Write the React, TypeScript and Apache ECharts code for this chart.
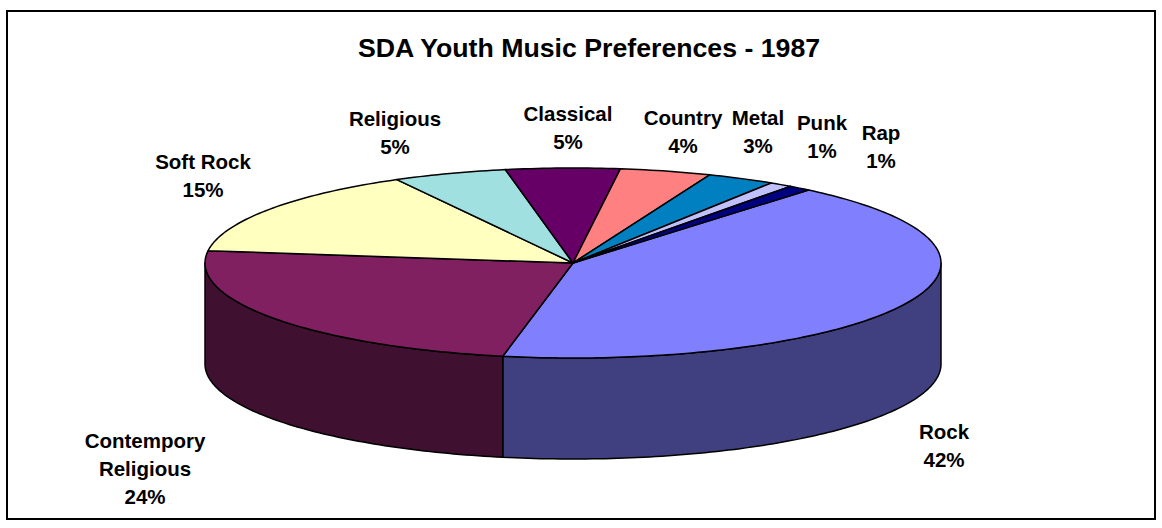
import React, { useEffect, useRef } from "react";
import * as echarts from "echarts";

// ---- Data ----
const titleText = "SDA Youth Music Preferences - 1987";
const categories = [
  "Rock",
  "Contempory Religious",
  "Soft Rock",
  "Religious",
  "Classical",
  "Country",
  "Metal",
  "Punk",
  "Rap",
];
const values = [42, 24, 15, 5, 5, 4, 3, 1, 1];

// ---- Styles / layout ----
const topColors = ["#8080FF", "#802060", "#FFFFC0", "#A0E0E0", "#660066", "#FF8080", "#0080C0", "#C0C0FF", "#000080"];
const sideColors = ["#404080", "#401030", "#808060", "#507070", "#330033", "#804040", "#004060", "#606080", "#000040"];
const labelCenters = [
  [944, 445],
  [145, 468],
  [203, 175],
  [395, 132],
  [568, 127],
  [683, 131],
  [758, 131],
  [822, 136],
  [881, 146],
];
const CX = 573;
const CY = 263;
const RX = 368;
const RY = 95;
const DEPTH = 101;
const START_ANGLE = -50.2; // degrees, clockwise on screen
const FONT = "Liberation Sans, Arial, Helvetica, sans-serif";

export default function App() {
  const ref = useRef<HTMLDivElement>(null);

  useEffect(() => {
    if (!ref.current) return;
    const chart = echarts.init(ref.current, null, { renderer: "svg" });
    const total = values.reduce((a, b) => a + b, 0);
    const cum: number[] = [];
    let acc = 0;
    values.forEach((v) => {
      cum.push(acc);
      acc += v;
    });

    const pt = (deg: number, dy = 0) => {
      const r = (deg * Math.PI) / 180;
      return [CX + RX * Math.cos(r), CY + RY * Math.sin(r) + dy];
    };
    const arc = (a: number, b: number, dy = 0) => {
      const pts: number[][] = [];
      const n = Math.max(2, Math.ceil(Math.abs(b - a) / 1));
      for (let k = 0; k <= n; k++) pts.push(pt(a + ((b - a) * k) / n, dy));
      return pts;
    };

    const renderItem = (params: any, api: any) => {
      const i = params.dataIndex;
      const v = api.value(0);
      const a0 = START_ANGLE + (cum[i] / total) * 360;
      const a1 = a0 + (v / total) * 360;
      const children: any[] = [];
      // side walls (front half: 0..180 deg)
      [-360, 0, 360].forEach((k) => {
        const lo = Math.max(a0, k);
        const hi = Math.min(a1, k + 180);
        if (hi > lo) {
          const pts = arc(lo, hi).concat(arc(hi, lo, DEPTH));
          children.push({
            type: "polygon",
            shape: { points: pts },
            style: { fill: sideColors[i], stroke: "#000", lineWidth: 1.5, lineJoin: "round" },
          });
        }
      });
      // top face
      const topPts = [[CX, CY]].concat(arc(a0, a1));
      children.push({
        type: "polygon",
        shape: { points: topPts },
        style: { fill: topColors[i], stroke: "#000", lineWidth: 1.5, lineJoin: "round" },
      });
      // label
      const name = categories[i];
      const lbl = (name.length > 12 ? name.replace(" ", "\n") : name) + "\n" + Math.round((v / total) * 100) + "%";
      children.push({
        type: "text",
        x: labelCenters[i][0],
        y: labelCenters[i][1],
        style: {
          text: lbl,
          fill: "#000",
          fontFamily: FONT,
          fontWeight: "bold",
          fontSize: 20.5,
          lineHeight: 28,
          align: "center",
          verticalAlign: "middle",
        },
      });
      return { type: "group", children };
    };

    chart.setOption({
      animation: false,
      backgroundColor: "#fff",
      graphic: [
        {
          type: "rect",
          shape: { x: 7, y: 11, width: 1148, height: 508 },
          style: { fill: "none", stroke: "#000", lineWidth: 2 },
          z: -1,
        },
        {
          type: "text",
          x: 589,
          y: 48,
          style: {
            text: titleText,
            fill: "#000",
            fontFamily: FONT,
            fontWeight: "bold",
            fontSize: 26.7,
            align: "center",
            verticalAlign: "middle",
          },
        },
      ],
      series: [
        {
          type: "custom",
          coordinateSystem: "none",
          renderItem,
          data: values.map((v, i) => ({ name: categories[i], value: [v] })),
        },
      ],
    });
    return () => chart.dispose();
  }, []);

  return (
    <div
      ref={ref}
      style={{ position: "fixed", left: 0, top: 0, width: 1162, height: 528 }}
    />
  );
}
